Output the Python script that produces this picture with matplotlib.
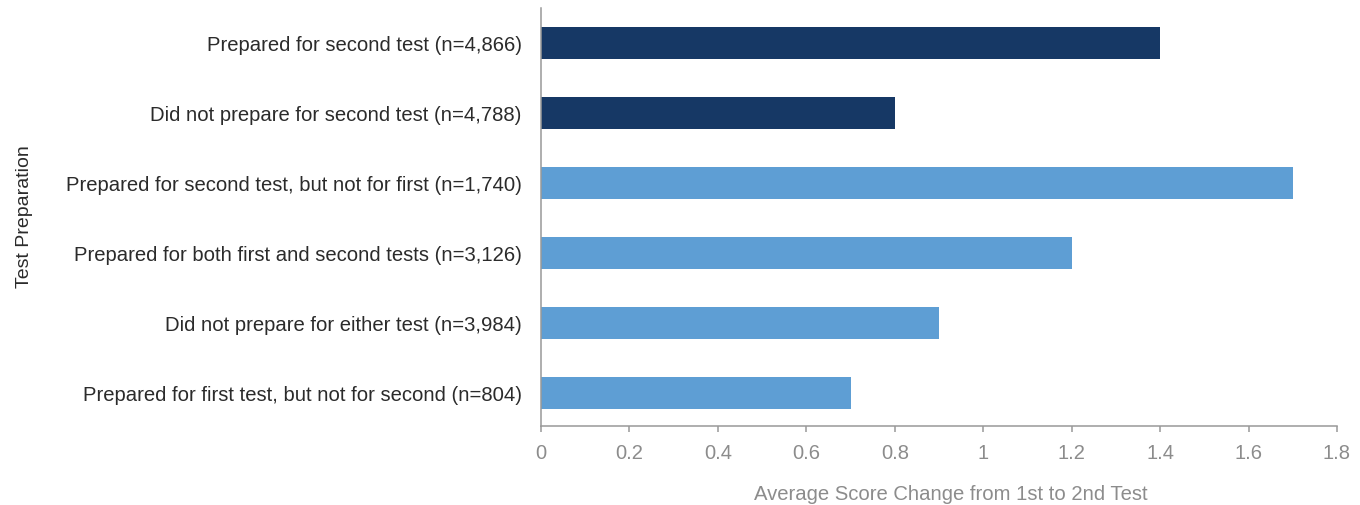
import matplotlib.pyplot as plt

categories = [
    "Prepared for second test (n=4,866)",
    "Did not prepare for second test (n=4,788)",
    "Prepared for second test, but not for first (n=1,740)",
    "Prepared for both first and second tests (n=3,126)",
    "Did not prepare for either test (n=3,984)",
    "Prepared for first test, but not for second (n=804)",
]
values = [1.4, 0.8, 1.7, 1.2, 0.9, 0.7]
groups = ["overall", "overall", "detail", "detail", "detail", "detail"]
xticks = [0, 0.2, 0.4, 0.6, 0.8, 1, 1.2, 1.4, 1.6, 1.8]
xtick_labels = ["0", "0.2", "0.4", "0.6", "0.8", "1", "1.2", "1.4", "1.6", "1.8"]

colors = {"overall": "#163865", "detail": "#5e9ed4"}

plt.rcParams['font.family'] = ['Liberation Sans', 'DejaVu Sans']

fig = plt.figure(figsize=(13.6, 5.05), dpi=100)
ax = fig.add_axes([541 / 1360, 1 - 426 / 505, (1337 - 541) / 1360, 418 / 505])

pos = list(range(len(categories)))
ax.barh(pos, values, height=0.46, color=[colors[g] for g in groups])

ax.set_xlim(0, 1.8)
ax.set_ylim(5.47, -0.5)
ax.set_xticks(xticks)
ax.set_xticklabels(xtick_labels)
ax.set_yticks(pos)
ax.set_yticklabels(categories)

ax.tick_params(axis='y', length=0, pad=14, labelsize=14.6, labelcolor='#2b2b2b')
ax.tick_params(axis='x', length=4, width=1.1, color='#999999', pad=9,
               labelsize=14.5, labelcolor='#8c8c8c')

for side in ['top', 'right']:
    ax.spines[side].set_visible(False)
for side in ['left', 'bottom']:
    ax.spines[side].set_color('#999999')
    ax.spines[side].set_linewidth(1.1)

ax.set_xlabel("Average Score Change from 1st to 2nd Test", fontsize=14.6,
              color='#8c8c8c')
ax.xaxis.set_label_coords((951 - 541) / (1337 - 541), -0.14)
ax.set_ylabel("Test Preparation", fontsize=14, color='#2b2b2b')
ax.yaxis.set_label_coords(-0.638, 0.5)

fig.savefig("out.png", dpi=100)
